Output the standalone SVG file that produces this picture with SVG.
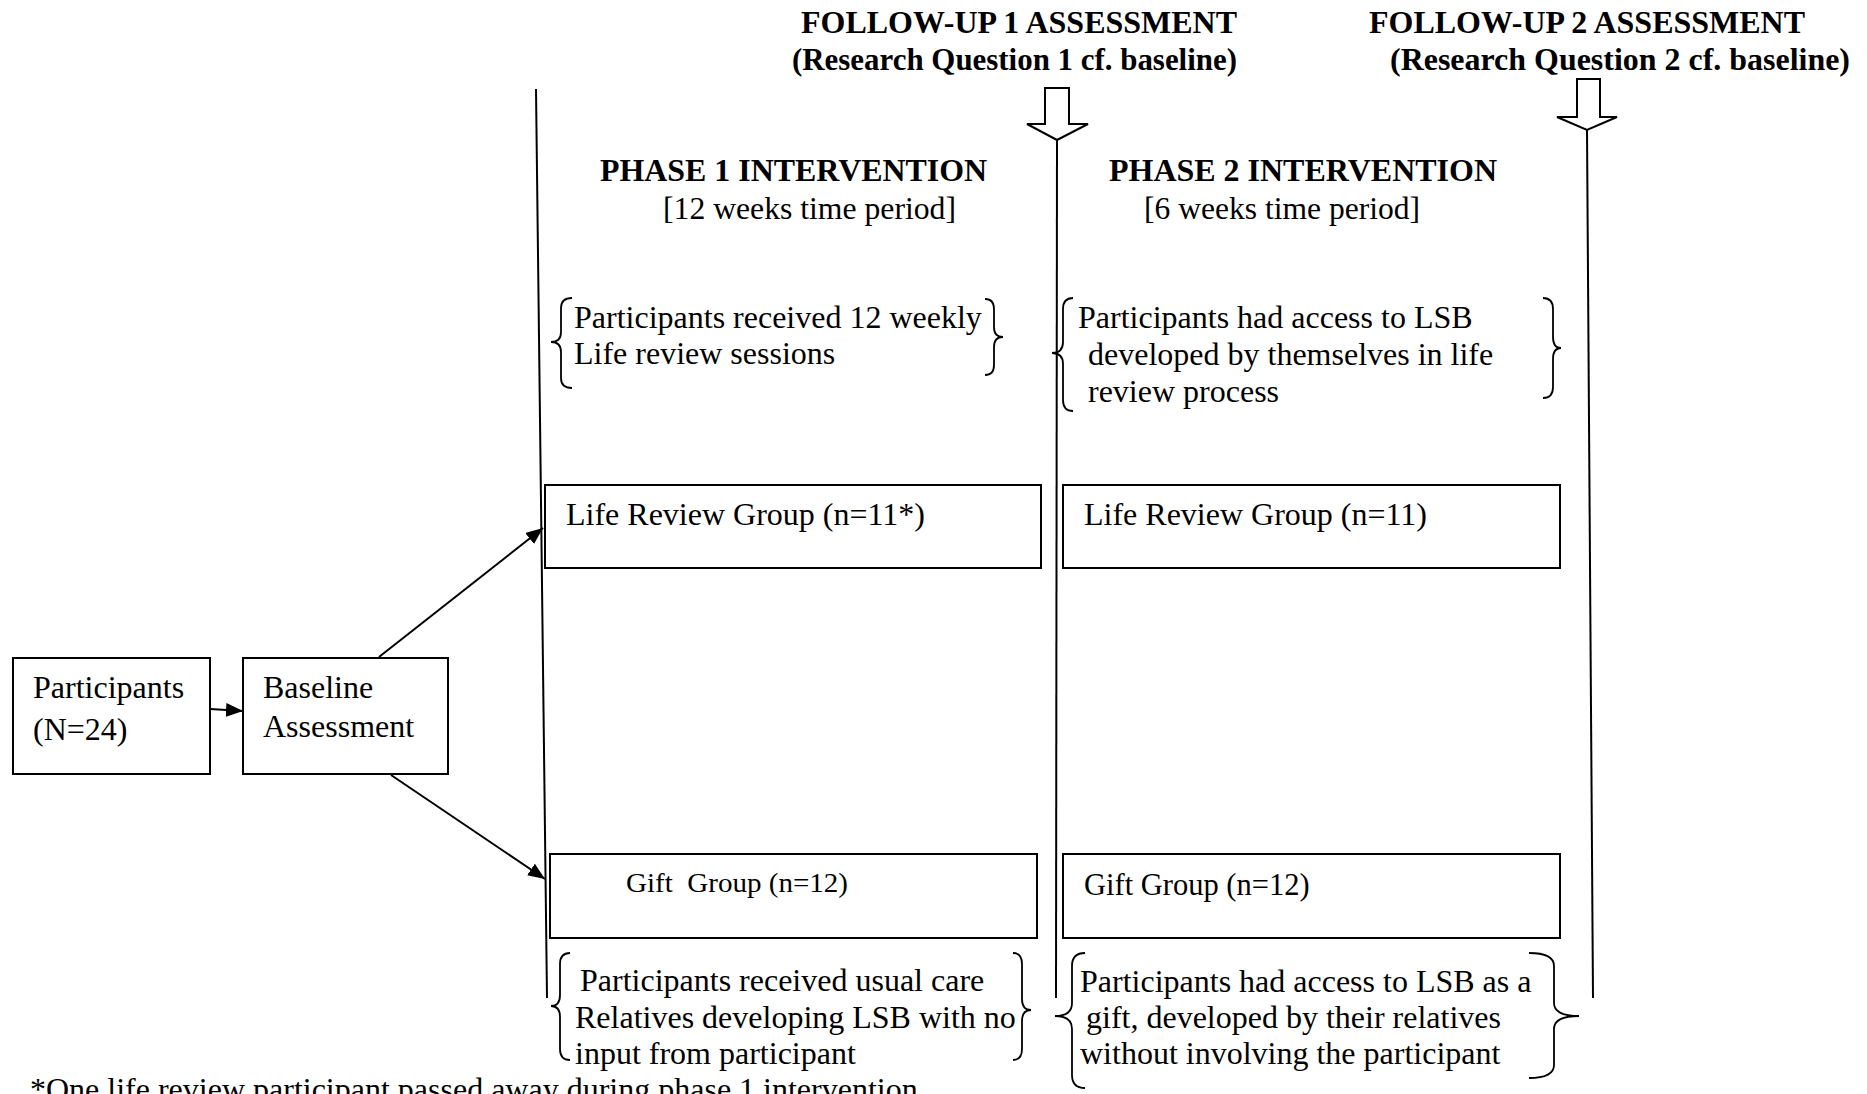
<svg xmlns="http://www.w3.org/2000/svg" width="1867" height="1094" viewBox="0 0 1867 1094">
<style>
text{font-family:"Liberation Serif","Times New Roman",serif;font-size:32px;fill:#000;white-space:pre}
.b{font-weight:bold}
.box{fill:#fff;stroke:#000;stroke-width:2}
.ln{fill:none;stroke:#000;stroke-width:2}
.br{fill:none;stroke:#000;stroke-width:1.8}
.blk{fill:#fff;stroke:#000;stroke-width:2;stroke-linejoin:miter}
</style>
<defs>
<marker id="ah" markerUnits="userSpaceOnUse" markerWidth="18" markerHeight="14" refX="17" refY="7" orient="auto">
<path d="M0,0 L17,7 L0,14 z" fill="#000"/>
</marker>
</defs>
<rect width="1867" height="1094" fill="#fff"/>

<g id="headers">
<text class="b" x="801" y="33" textLength="436" lengthAdjust="spacingAndGlyphs">FOLLOW-UP 1 ASSESSMENT</text>
<text class="b" x="792" y="70" textLength="445" lengthAdjust="spacingAndGlyphs">(Research Question 1 cf. baseline)</text>
<text class="b" x="1369" y="33" textLength="436" lengthAdjust="spacingAndGlyphs">FOLLOW-UP 2 ASSESSMENT</text>
<text class="b" x="1390" y="70" textLength="460" lengthAdjust="spacingAndGlyphs">(Research Question 2 cf. baseline)</text>
<text class="b" x="600" y="181" textLength="387" lengthAdjust="spacingAndGlyphs">PHASE 1 INTERVENTION</text>
<text x="663" y="219" textLength="293" lengthAdjust="spacingAndGlyphs">[12 weeks time period]</text>
<text class="b" x="1109" y="181" textLength="388" lengthAdjust="spacingAndGlyphs">PHASE 2 INTERVENTION</text>
<text x="1144" y="219" textLength="276" lengthAdjust="spacingAndGlyphs">[6 weeks time period]</text>
</g>

<g id="timeline-arrows">
<polygon class="blk" points="1045,88 1069,88 1069,124 1088,124 1057,140 1027,124 1045,124"/>
<polygon class="blk" points="1577,79 1600,79 1600,117 1617,117 1587,130 1557,117 1577,117"/>
</g>

<g id="timelines">
<line class="ln" x1="536" y1="89" x2="547" y2="998"/>
<line class="ln" x1="1057" y1="140" x2="1056" y2="998"/>
<line class="ln" x1="1587" y1="130" x2="1593" y2="998"/>
</g>

<g id="phase1-note">
<path class="br" d="M572,298 Q561,298 561,308 L561,332 Q561,342 551,342 Q561,342 561,352 L561,378 Q561,388 572,388"/>
<path class="br" d="M985,299 Q994,299 994,309 L994,327 Q994,337 1003,337 Q994,337 994,347 L994,365 Q994,375 985,375"/>
<text x="574" y="328">Participants received 12 weekly</text>
<text x="574" y="364">Life review sessions</text>
</g>

<g id="phase2-note">
<path class="br" d="M1073,298 Q1063,298 1063,309 L1063,342 Q1063,353 1052,353 Q1063,353 1063,364 L1063,400 Q1063,411 1073,411"/>
<path class="br" d="M1543,298 Q1553,298 1553,309 L1553,337 Q1553,348 1561,348 Q1553,348 1553,359 L1553,387 Q1553,398 1543,398"/>
<text x="1078" y="328">Participants had access to LSB</text>
<text x="1088" y="365">developed by themselves in life</text>
<text x="1088" y="402">review process</text>
</g>

<g id="participants">
<rect class="box" x="13" y="658" width="197" height="116"/>
<text x="33" y="698">Participants</text>
<text x="33" y="740">(N=24)</text>
</g>

<g id="baseline">
<rect class="box" x="243" y="658" width="205" height="116"/>
<text x="263" y="698">Baseline</text>
<text x="263" y="737">Assessment</text>
</g>

<g id="lr-phase1">
<rect class="box" x="545" y="485" width="496" height="83"/>
<text x="566" y="525">Life Review Group (n=11*)</text>
</g>

<g id="lr-phase2">
<rect class="box" x="1063" y="485" width="497" height="83"/>
<text x="1084" y="525">Life Review Group (n=11)</text>
</g>

<g id="gift-phase1">
<rect class="box" x="550" y="854" width="487" height="84"/>
<text x="626" y="892" style="font-size:28px" textLength="222" lengthAdjust="spacingAndGlyphs">Gift  Group (n=12)</text>
</g>

<g id="gift-phase2">
<rect class="box" x="1063" y="854" width="497" height="84"/>
<text x="1084" y="895" style="font-size:30.5px">Gift Group (n=12)</text>
</g>

<g id="gift-phase1-note">
<path class="br" d="M570,953 Q560,953 560,964 L560,995 Q560,1006 551,1006 Q560,1006 560,1017 L560,1049 Q560,1060 570,1060"/>
<path class="br" d="M1013,953 Q1022,953 1022,964 L1022,999 Q1022,1010 1031,1010 Q1022,1010 1022,1021 L1022,1049 Q1022,1060 1013,1060"/>
<text x="580" y="991">Participants received usual care</text>
<text x="575" y="1028">Relatives developing LSB with no</text>
<text x="575" y="1064">input from participant</text>
</g>

<g id="gift-phase2-note">
<path class="br" d="M1085,953 Q1072,953 1072,966 L1072,1003 Q1072,1016 1055,1016 Q1072,1016 1072,1029 L1072,1075 Q1072,1088 1085,1088"/>
<path class="br" d="M1529,953 Q1554,953 1554,966 L1554,1003 Q1554,1016 1579,1016 Q1554,1016 1554,1029 L1554,1065 Q1554,1078 1529,1078"/>
<text x="1080" y="992">Participants had access to LSB as a</text>
<text x="1086" y="1028">gift, developed by their relatives</text>
<text x="1080" y="1064">without involving the participant</text>
</g>

<g id="footnote">
<text x="30" y="1100">*One life review participant passed away during phase 1 intervention</text>
</g>

<g id="connectors">
<line class="ln" x1="210" y1="709" x2="243" y2="711" marker-end="url(#ah)"/>
<line class="ln" x1="379" y1="657" x2="543" y2="528" marker-end="url(#ah)"/>
<line class="ln" x1="391" y1="775" x2="545" y2="879" marker-end="url(#ah)"/>
</g>
</svg>
